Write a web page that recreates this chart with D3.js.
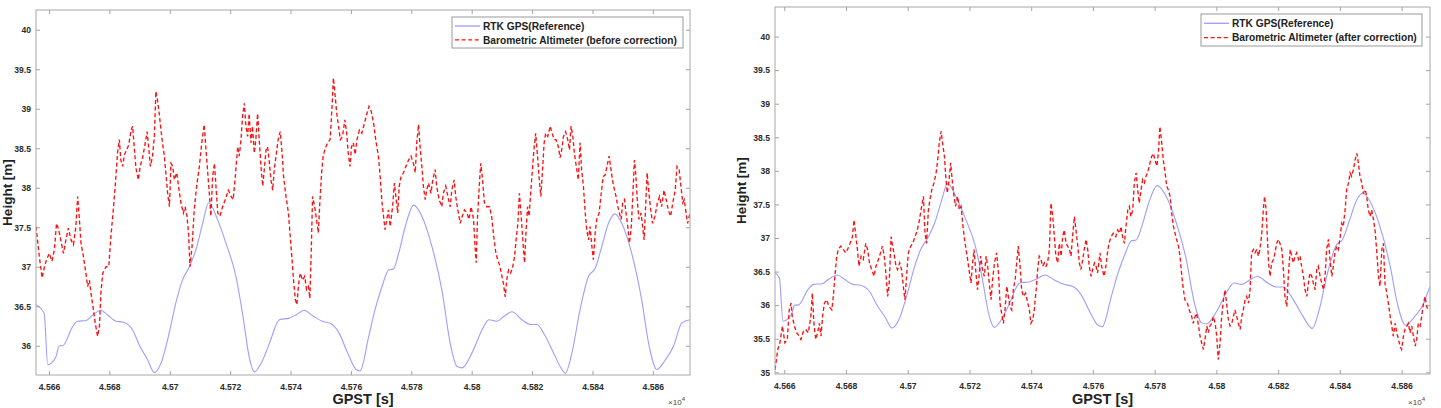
<!DOCTYPE html>
<html><head><meta charset="utf-8">
<script src="https://cdn.jsdelivr.net/npm/d3@7"></script>
<style>
html,body{margin:0;padding:0;background:#fff;}
svg{display:block;font-family:"Liberation Sans",Arial,sans-serif;}
</style></head><body>
<svg id="chart" width="1441" height="408"></svg>
<script>
// ---------- data ----------
const xTicks = [45660,45680,45700,45720,45740,45760,45780,45800,45820,45840,45860];
const xTickLabels = ["4.566","4.568","4.57","4.572","4.574","4.576","4.578","4.58","4.582","4.584","4.586"];
const yTicksBefore = [36,36.5,37,37.5,38,38.5,39,39.5,40];
const yTicksAfter = [35,35.5,36,36.5,37,37.5,38,38.5,39,39.5,40];
const yTickLabelsBefore = ["36","36.5","37","37.5","38","38.5","39","39.5","40"];
const yTickLabelsAfter = ["35","35.5","36","36.5","37","37.5","38","38.5","39","39.5","40"];
const seriesNamesBefore = ["RTK GPS(Reference)","Barometric Altimeter (before correction)"];
const seriesNamesAfter = ["RTK GPS(Reference)","Barometric Altimeter (after correction)"];
const xLabel = "GPST [s]";
const yLabel = "Height [m]";

// RTK GPS reference height [GPST s, m]
const rtkGps = [
[45655.7,36.52],[45658.4,36.41],[45659.6,35.76],[45662.3,35.86],[45663.4,36.0],[45664.5,36.0],[45667.8,36.24],[45669.5,36.31],
[45672.3,36.32],[45674.5,36.39],[45677.2,36.45],[45679.4,36.39],[45682.2,36.31],[45684.4,36.30],[45687.7,36.2],[45689.9,36.01],
[45692.7,35.82],[45694.9,35.66],[45697.1,35.78],[45699.8,36.16],[45702,36.54],[45704.3,36.84],[45706.5,37.0],[45708.7,37.22],
[45710.9,37.55],[45712.9,37.81],[45715.9,37.59],[45718.6,37.3],[45721.9,36.88],[45724.1,36.41],[45726.3,35.86],[45728,35.67],
[45730.8,35.82],[45733,36.03],[45736.3,36.33],[45739.6,36.35],[45741.8,36.39],[45744.5,36.45],[45747.3,36.38],[45750.6,36.31],
[45753.4,36.28],[45756.1,36.16],[45758.9,35.91],[45761.7,35.7],[45763.0,35.68],[45765.9,36.12],[45768,36.46],[45770.3,36.75],
[45772.5,36.96],[45774,36.97],[45775.8,37.17],[45778,37.51],[45780.8,37.78],[45783.5,37.64],[45786.8,37.26],[45790.1,36.71],
[45792.9,36.03],[45795.1,35.74],[45796.8,35.72],[45800.1,35.91],[45803.4,36.2],[45805.7,36.33],[45808.3,36.31],[45810.6,36.37],
[45813.3,36.43],[45816.6,36.33],[45819.4,36.27],[45821.6,36.27],[45824.4,36.12],[45827.1,35.91],[45829.9,35.7],[45831,35.65],
[45833.2,35.91],[45835.9,36.46],[45838.7,36.88],[45840.9,36.98],[45843.1,37.26],[45845.3,37.55],[45847.5,37.67],[45849.7,37.55],
[45853,37.17],[45856.3,36.58],[45858.6,36.03],[45861.3,35.7],[45864.1,35.82],[45866.8,35.99],[45869.6,36.29],[45872.3,36.33]
];

// Barometric altimeter before correction
const baroBefore = [
[45655.7,37.51],[45656.8,37.13],[45657.7,36.86],[45658.5,37.0],[45659.2,37.09],[45660.1,37.17],[45661.0,37.07],[45661.8,37.22],
[45662.5,37.55],[45663.2,37.47],[45664.0,37.32],[45664.8,37.17],[45665.6,37.34],[45666.4,37.49],[45667.3,37.34],[45668.1,37.28],
[45668.9,37.51],[45669.5,37.89],[45670.0,37.64],[45670.6,37.3],[45671.4,37.13],[45672.3,36.9],[45672.8,36.75],[45673.4,36.83],
[45673.9,36.67],[45674.7,36.46],[45675.3,36.29],[45676.1,36.12],[45676.7,36.24],[45677.2,36.67],[45677.8,36.92],[45678.9,37.0],
[45679.8,37.0],[45680.5,37.38],[45681.3,37.72],[45682.0,38.06],[45682.7,38.44],[45683.3,38.61],[45683.8,38.35],[45684.4,38.27],
[45685.0,38.42],[45685.7,38.48],[45686.4,38.54],[45687.2,38.73],[45687.7,38.78],[45688.3,38.48],[45688.8,38.25],[45689.6,38.1],
[45690.2,38.27],[45691.0,38.38],[45691.9,38.57],[45692.5,38.71],[45693.0,38.52],[45693.6,38.27],[45694.3,38.4],[45694.9,38.65],
[45695.4,39.22],[45696.0,39.09],[45696.5,38.94],[45697.1,38.73],[45697.6,38.57],[45698.2,38.4],[45698.7,38.19],[45699.3,37.93],
[45699.9,37.76],[45700.4,38.31],[45701.0,38.27],[45701.5,38.1],[45702.3,38.19],[45702.9,38.02],[45703.7,37.81],[45704.5,37.68],
[45705.1,37.76],[45705.7,37.64],[45706.2,37.43],[45706.7,37.0],[45707.4,37.26],[45708.1,37.72],[45708.9,38.02],[45709.8,38.27],
[45710.6,38.57],[45711.4,38.8],[45712.0,38.48],[45712.5,38.23],[45713.1,37.93],[45713.6,37.64],[45714.2,38.14],[45714.8,38.31],
[45715.3,38.02],[45715.9,37.68],[45716.6,37.64],[45717.5,37.76],[45718.4,37.85],[45719.4,37.97],[45720.3,37.89],[45721.0,37.85],
[45721.7,38.14],[45722.5,38.52],[45723.0,38.4],[45723.6,38.61],[45724.1,38.9],[45724.7,39.07],[45725.2,38.78],[45725.8,38.65],
[45726.3,38.94],[45726.9,38.57],[45727.4,38.78],[45728.0,38.44],[45728.5,38.61],[45729.1,38.94],[45729.7,38.57],[45730.2,38.27],
[45730.8,38.02],[45731.3,38.23],[45731.9,38.48],[45732.4,38.52],[45733.0,38.31],[45733.5,38.1],[45734.1,37.97],[45734.6,38.23],
[45735.2,38.4],[45735.9,38.61],[45736.6,38.71],[45737.2,38.44],[45737.7,38.14],[45738.5,37.89],[45739.3,37.68],[45739.9,37.38],
[45740.5,37.09],[45741.0,36.83],[45741.6,36.58],[45742.1,36.52],[45742.7,36.79],[45743.2,36.92],[45744.0,36.83],[45744.7,36.88],
[45745.3,36.71],[45745.9,36.75],[45746.4,36.6],[45746.9,37.26],[45747.3,37.89],[45748.0,37.76],[45748.6,37.6],[45749.2,37.43],
[45749.7,37.81],[45750.3,38.19],[45750.8,38.4],[45751.5,38.5],[45752.3,38.57],[45753.1,38.61],[45753.7,38.99],[45754.2,39.39],
[45754.7,39.2],[45755.3,38.94],[45755.9,38.78],[45756.5,38.61],[45757.2,38.65],[45758.0,38.86],[45758.6,38.69],[45759.1,38.44],
[45759.7,38.27],[45760.2,38.52],[45760.8,38.57],[45761.4,38.42],[45762.0,38.61],[45762.8,38.73],[45763.6,38.69],[45764.5,38.82],
[45765.3,38.94],[45766.0,39.03],[45766.7,38.97],[45767.5,38.82],[45768.2,38.61],[45769.1,38.4],[45769.7,38.14],[45770.2,37.85],
[45770.8,37.64],[45771.3,37.47],[45771.9,37.6],[45772.4,37.72],[45773.0,37.51],[45773.8,37.76],[45774.4,38.06],[45775.0,37.85],
[45775.5,37.68],[45776.0,38.02],[45776.6,38.14],[45777.4,38.19],[45778.2,38.27],[45779.1,38.35],[45779.9,38.4],[45780.7,38.31],
[45781.3,38.19],[45781.8,38.57],[45782.4,38.8],[45782.9,38.52],[45783.5,38.27],[45784.0,38.02],[45784.6,37.85],[45785.1,37.97],
[45785.7,38.06],[45786.5,37.93],[45787.1,38.1],[45787.9,38.23],[45788.4,38.02],[45789.2,37.85],[45790.1,37.76],[45790.6,37.93],
[45791.4,38.02],[45792.1,37.89],[45792.9,37.76],[45793.4,37.97],[45794.2,38.1],[45794.7,37.89],[45795.4,37.72],[45796.2,37.55],
[45796.9,37.64],[45797.6,37.72],[45798.4,37.68],[45799.1,37.6],[45799.8,37.76],[45800.6,37.6],[45801.1,37.26],[45801.5,37.05],
[45801.9,37.6],[45802.5,38.02],[45803.0,38.31],[45803.6,38.1],[45804.2,37.81],[45805.0,37.76],[45805.9,37.76],[45806.6,37.64],
[45807.3,37.38],[45808.0,37.17],[45808.6,37.09],[45809.4,37.0],[45810.0,36.88],[45810.5,36.79],[45811.1,36.62],[45811.6,36.83],
[45812.2,36.96],[45812.9,36.92],[45813.6,37.0],[45814.2,37.13],[45814.7,37.34],[45815.3,37.55],[45815.8,37.93],[45816.4,37.64],
[45817.0,37.3],[45817.5,37.05],[45817.9,37.38],[45818.5,37.76],[45819.0,37.64],[45819.6,37.97],[45820.1,38.23],[45820.7,38.52],
[45821.2,38.69],[45821.8,38.4],[45822.3,38.14],[45822.9,37.89],[45823.4,38.19],[45824.0,38.57],[45824.5,38.69],[45825.2,38.65],
[45826.0,38.78],[45826.5,38.71],[45827.3,38.61],[45827.9,38.61],[45828.7,38.52],[45829.3,38.38],[45829.8,38.48],[45830.4,38.65],
[45831.1,38.71],[45831.8,38.61],[45832.4,38.48],[45832.9,38.78],[45833.5,38.65],[45834.0,38.44],[45834.8,38.23],[45835.3,38.1],
[45835.9,38.57],[45836.4,38.23],[45837.0,38.02],[45837.6,37.68],[45838.1,37.47],[45838.7,37.34],[45839.2,37.51],[45839.8,37.26],
[45840.3,37.09],[45840.9,37.43],[45841.4,37.6],[45842.2,37.68],[45842.9,37.93],[45843.5,38.14],[45844.2,38.16],[45844.8,38.27],
[45845.5,38.4],[45846.0,38.27],[45846.6,38.1],[45847.3,37.97],[45847.8,37.89],[45848.4,37.76],[45848.9,37.68],[45849.5,37.6],
[45850.0,37.81],[45850.6,37.85],[45851.1,37.68],[45851.7,37.51],[45852.2,37.3],[45852.8,37.47],[45853.3,37.85],[45853.9,38.35],
[45854.3,38.19],[45854.9,37.81],[45855.4,37.6],[45856.1,37.68],[45856.6,37.51],[45857.1,37.34],[45857.6,37.76],[45858.1,38.19],
[45858.7,37.93],[45859.3,37.72],[45859.9,37.55],[45860.7,37.64],[45861.5,37.81],[45862.2,37.89],[45862.9,37.76],[45863.7,37.97],
[45864.4,37.85],[45865.1,37.72],[45865.9,37.64],[45866.6,37.81],[45867.4,37.97],[45868.0,38.27],[45868.7,38.23],[45869.3,38.02],
[45869.9,37.81],[45870.4,37.85],[45871.0,37.68],[45871.5,37.55],[45872.3,37.68]
];

// Barometric altimeter after correction
const baroAfter = [
[45657.0,35.04],[45657.9,35.34],[45658.6,35.44],[45659.4,35.69],[45660.2,35.44],[45661.0,35.49],[45661.6,35.93],[45662.2,36.03],
[45662.6,35.83],[45663.3,35.69],[45664.0,35.59],[45664.8,35.54],[45665.4,35.49],[45666.2,35.61],[45666.9,35.64],[45667.8,35.59],
[45668.6,35.83],[45669.1,36.18],[45669.6,35.73],[45670.2,35.49],[45670.8,35.59],[45671.4,35.73],[45671.9,35.54],[45672.4,35.83],
[45673.0,36.03],[45673.7,36.08],[45674.5,35.98],[45675.4,35.93],[45675.9,36.13],[45676.4,36.43],[45677.0,36.73],[45677.5,36.83],
[45678.3,36.88],[45679.1,36.83],[45679.9,36.78],[45680.5,36.83],[45681.3,36.92],[45682.1,37.02],[45682.6,37.27],[45683.1,37.07],
[45683.7,36.83],[45684.2,36.58],[45684.9,36.73],[45685.6,36.68],[45686.4,36.92],[45687.0,36.83],[45687.6,36.63],[45688.3,36.53],
[45689.1,36.43],[45689.7,36.58],[45690.5,36.68],[45691.2,36.78],[45691.8,36.88],[45692.4,36.73],[45693.0,36.43],[45693.5,36.13],
[45694.0,36.33],[45694.6,37.02],[45695.1,36.88],[45695.7,36.73],[45696.2,36.58],[45696.7,36.53],[45697.4,36.63],[45698.0,36.53],
[45698.7,36.23],[45699.1,36.08],[45699.7,36.48],[45700.2,36.78],[45701.0,36.88],[45701.6,36.92],[45702.4,37.02],[45703.1,37.12],
[45703.8,37.27],[45704.5,37.47],[45705.1,37.62],[45705.6,37.07],[45706.1,36.92],[45706.7,37.42],[45707.2,37.57],[45707.8,37.72],
[45708.5,37.82],[45709.2,37.97],[45709.7,38.16],[45710.2,38.41],[45710.8,38.59],[45711.3,38.41],[45711.9,38.21],[45712.3,37.92],
[45712.8,37.67],[45713.4,37.87],[45713.9,38.12],[45714.5,37.82],[45715.0,37.62],[45715.5,37.47],[45716.2,37.62],[45716.7,37.42],
[45717.3,37.47],[45717.8,37.22],[45718.3,37.02],[45718.9,36.83],[45719.4,36.68],[45720.0,36.48],[45720.5,36.33],[45720.9,36.58],
[45721.5,36.83],[45722.0,36.53],[45722.6,36.23],[45723.1,36.43],[45723.6,36.73],[45724.2,36.53],[45724.8,36.43],[45725.4,36.73],
[45725.9,36.58],[45726.4,36.33],[45727.0,36.08],[45727.5,36.38],[45728.1,36.63],[45728.8,36.78],[45729.4,36.48],[45729.9,36.03],
[45730.4,35.88],[45731.0,35.73],[45731.5,35.93],[45732.1,36.28],[45732.6,36.13],[45733.1,35.98],[45733.7,35.93],[45734.2,36.23],
[45734.8,36.38],[45735.3,36.63],[45735.8,36.88],[45736.4,36.58],[45736.9,36.23],[45737.5,36.13],[45738.2,36.18],[45738.9,36.03],
[45739.4,35.93],[45739.9,35.73],[45740.5,35.78],[45741.0,35.93],[45741.6,36.23],[45742.1,36.53],[45742.6,36.73],[45743.2,36.68],
[45743.7,36.58],[45744.3,36.63],[45744.8,36.58],[45745.3,36.63],[45745.9,36.83],[45746.4,37.52],[45747.0,37.32],[45747.5,37.02],
[45748.0,36.73],[45748.6,36.63],[45749.1,36.92],[45749.7,36.73],[45750.2,37.02],[45750.7,37.12],[45751.3,36.92],[45751.8,36.88],
[45752.4,36.83],[45752.9,36.73],[45753.4,37.02],[45754.0,37.32],[45754.5,37.12],[45755.1,36.88],[45755.6,36.63],[45756.1,36.53],
[45756.7,36.68],[45757.2,36.83],[45757.8,36.98],[45758.3,36.83],[45758.8,36.58],[45759.4,36.43],[45759.9,36.53],[45760.5,36.63],
[45761.0,36.58],[45761.5,36.48],[45762.3,36.78],[45762.8,36.58],[45763.6,36.43],[45764.2,36.58],[45764.7,36.78],[45765.2,36.92],
[45765.9,37.02],[45766.6,37.07],[45767.4,37.02],[45768.0,37.12],[45768.6,37.07],[45769.1,37.17],[45769.6,37.02],[45770.2,36.92],
[45770.7,37.17],[45771.3,37.42],[45771.8,37.47],[45772.3,37.32],[45772.9,37.42],[45773.4,37.82],[45774.0,37.97],[45774.5,37.72],
[45775.0,37.52],[45775.6,37.72],[45776.1,37.87],[45776.7,37.82],[45777.2,37.92],[45777.7,37.97],[45778.5,38.12],[45779.0,38.21],
[45779.6,38.26],[45780.1,38.16],[45780.7,38.07],[45781.2,38.26],[45781.7,38.66],[45782.3,38.41],[45782.8,38.16],[45783.4,37.97],
[45783.9,37.77],[45784.4,37.72],[45785.0,37.62],[45785.5,37.37],[45786.1,37.17],[45786.6,37.07],[45787.1,36.98],[45787.7,36.88],
[45788.2,36.73],[45788.8,36.43],[45789.3,36.23],[45789.8,36.08],[45790.6,36.03],[45791.2,35.93],[45792.0,35.83],[45792.5,35.73],
[45793.1,35.83],[45793.6,35.88],[45794.2,35.69],[45794.7,35.54],[45795.2,35.44],[45795.8,35.34],[45796.3,35.49],[45796.9,35.69],
[45797.4,35.59],[45797.9,35.69],[45798.5,35.73],[45799.0,35.83],[45799.6,35.73],[45800.1,35.54],[45800.6,35.19],[45801.2,35.44],
[45801.7,35.83],[45802.3,36.08],[45802.8,36.23],[45803.3,36.03],[45803.9,35.78],[45804.4,35.69],[45805.0,35.73],[45805.5,35.83],
[45806.0,35.93],[45806.6,35.83],[45807.1,35.73],[45807.7,35.64],[45808.2,35.83],[45808.7,35.93],[45809.3,36.08],[45809.8,36.13],
[45810.4,36.03],[45810.9,36.23],[45811.4,36.78],[45812.0,36.83],[45812.5,36.78],[45813.1,36.83],[45813.6,36.73],[45814.1,36.83],
[45814.7,37.07],[45815.2,37.42],[45815.6,37.62],[45816.1,37.42],[45816.5,37.02],[45816.9,36.63],[45817.4,36.43],[45817.9,36.63],
[45818.5,36.68],[45819.0,36.78],[45819.5,36.92],[45820.1,36.98],[45820.6,36.92],[45821.2,36.83],[45821.7,36.53],[45822.2,36.13],
[45822.8,35.98],[45823.3,36.43],[45823.9,36.83],[45824.4,36.73],[45824.9,36.63],[45825.5,36.73],[45826.0,36.78],[45826.6,36.68],
[45827.1,36.73],[45827.6,36.58],[45828.2,36.43],[45828.7,36.23],[45829.3,36.13],[45829.8,36.33],[45830.3,36.48],[45830.9,36.43],
[45831.4,36.33],[45832.0,36.23],[45832.5,36.53],[45833.0,36.58],[45833.6,36.43],[45834.1,36.33],[45834.7,36.23],[45835.2,36.43],
[45835.7,36.83],[45836.3,36.98],[45836.8,36.68],[45837.4,36.43],[45837.9,36.58],[45838.4,36.78],[45839.0,36.88],[45839.5,36.83],
[45840.1,37.02],[45840.6,37.22],[45841.1,37.17],[45841.7,37.42],[45842.2,37.72],[45842.8,37.82],[45843.3,37.97],[45843.8,37.92],
[45844.4,38.02],[45844.9,38.16],[45845.5,38.26],[45846.0,38.12],[45846.5,37.92],[45847.1,37.82],[45847.6,37.67],[45848.2,37.72],
[45848.7,37.62],[45849.2,37.42],[45849.8,37.32],[45850.3,37.42],[45850.9,37.27],[45851.4,37.12],[45851.9,36.83],[45852.5,36.43],
[45853.0,36.28],[45853.6,36.83],[45854.1,36.92],[45854.6,36.33],[45855.2,36.18],[45855.7,36.03],[45856.3,35.83],[45856.8,35.69],
[45857.3,35.54],[45857.9,35.73],[45858.4,35.59],[45859.0,35.49],[45859.5,35.39],[45860.0,35.34],[45860.6,35.54],[45861.1,35.64],
[45861.7,35.69],[45862.2,35.73],[45862.7,35.59],[45863.3,35.69],[45863.8,35.54],[45864.4,35.39],[45864.9,35.49],[45865.4,35.73],
[45866.0,35.69],[45866.5,35.83],[45867.1,36.03],[45867.6,36.13],[45868.1,35.98],[45868.7,35.93]
];

// ---------- layout ----------
const panels = [
  {left:36, top:10, right:690, bottom:375, xDomain:[45655.7,45872.3], yDomain:[35.63,40.25],
   yTicks:yTicksBefore, yTickLabels:yTickLabelsBefore, baro:baroBefore, names:seriesNamesBefore,
   legend:{x:452, y:17, w:231, h:31}, yLabelX:12, id:"p0"},
  {left:775, top:7, right:1430, bottom:374, xDomain:[45657,45869.2], yDomain:[34.975,40.44],
   yTicks:yTicksAfter, yTickLabels:yTickLabelsAfter, baro:baroAfter, names:seriesNamesAfter,
   legend:{x:1201, y:14, w:221, h:32}, yLabelX:746, id:"p1"}
];

const blueColor = "#9d9dff";
const redColor = "#ff1010";
const svg = d3.select("#chart");
const defs = svg.append("defs");

panels.forEach(p => {
  const x = d3.scaleLinear().domain(p.xDomain).range([p.left, p.right]);
  const y = d3.scaleLinear().domain(p.yDomain).range([p.bottom, p.top]);
  const w = p.right - p.left, h = p.bottom - p.top;

  defs.append("clipPath").attr("id", "clip-" + p.id)
    .append("rect").attr("x", p.left).attr("y", p.top).attr("width", w).attr("height", h);

  const g = svg.append("g");

  // axes (ticks inward, MATLAB style)
  const styleAxis = sel => {
    sel.select(".domain").remove();
    sel.selectAll(".tick line").attr("stroke", "#8a8a8a").attr("stroke-width", 0.8);
    sel.selectAll(".tick text").attr("fill", "#2b2b2b").attr("font-weight", "bold").attr("font-size", "8.6px");
  };
  g.append("g").attr("transform", `translate(0,${p.bottom})`)
    .call(d3.axisBottom(x).tickValues(xTicks).tickFormat((d,i) => xTickLabels[i]).tickSize(-4).tickPadding(9))
    .call(styleAxis);
  g.append("g").attr("transform", `translate(0,${p.top})`)
    .call(d3.axisTop(x).tickValues(xTicks).tickFormat("").tickSize(-4))
    .call(styleAxis);
  g.append("g").attr("transform", `translate(${p.left},0)`)
    .call(d3.axisLeft(y).tickValues(p.yTicks).tickFormat((d,i) => p.yTickLabels[i]).tickSize(-4).tickPadding(5))
    .call(styleAxis);
  g.append("g").attr("transform", `translate(${p.right},0)`)
    .call(d3.axisRight(y).tickValues(p.yTicks).tickFormat("").tickSize(-4))
    .call(styleAxis);

  // lines
  const plot = g.append("g").attr("clip-path", `url(#clip-${p.id})`);
  plot.append("path").datum(rtkGps)
    .attr("d", d3.line().x(d => x(d[0])).y(d => y(d[1])).curve(d3.curveMonotoneX))
    .attr("fill", "none").attr("stroke", blueColor).attr("stroke-width", 1.1);
  plot.append("path").datum(p.baro)
    .attr("d", d3.line().x(d => x(d[0])).y(d => y(d[1])))
    .attr("fill", "none").attr("stroke", redColor).attr("stroke-width", 1.35)
    .attr("stroke-dasharray", "4,2.6");

  // box
  g.append("rect").attr("x", p.left).attr("y", p.top).attr("width", w).attr("height", h)
    .attr("fill", "none").attr("stroke", "#a8a8a8").attr("stroke-width", 1);

  // axis labels
  g.append("text").attr("x", (p.left + p.right) / 2).attr("y", 404)
    .attr("text-anchor", "middle").attr("font-weight", "bold").attr("font-size", "14.5px")
    .attr("fill", "#222").text(xLabel);
  g.append("text").attr("transform", `translate(${p.yLabelX},${(p.top + p.bottom) / 2}) rotate(-90)`)
    .attr("text-anchor", "middle").attr("font-weight", "bold").attr("font-size", "13.5px")
    .attr("fill", "#222").text(yLabel);
  const exp = g.append("text").attr("x", p.right - 5).attr("y", 405)
    .attr("text-anchor", "end").attr("font-size", "8px").attr("fill", "#444");
  exp.append("tspan").text("\u00d710");
  exp.append("tspan").attr("dy", -4).attr("font-size", "6px").text("4");

  // legend
  const L = p.legend;
  const lg = g.append("g");
  lg.append("rect").attr("x", L.x).attr("y", L.y).attr("width", L.w).attr("height", L.h)
    .attr("fill", "#fff").attr("stroke", "#9a9a9a").attr("stroke-width", 1);
  const rows = [L.y + L.h * 0.29, L.y + L.h * 0.74];
  lg.append("line").attr("x1", L.x + 3).attr("x2", L.x + 28).attr("y1", rows[0]).attr("y2", rows[0])
    .attr("stroke", blueColor).attr("stroke-width", 1.3);
  lg.append("line").attr("x1", L.x + 3).attr("x2", L.x + 28).attr("y1", rows[1]).attr("y2", rows[1])
    .attr("stroke", redColor).attr("stroke-width", 1.3).attr("stroke-dasharray", "4,2.6");
  p.names.forEach((n, i) => {
    lg.append("text").attr("x", L.x + 31).attr("y", rows[i] + 3.6)
      .attr("font-weight", "bold").attr("font-size", "10.2px").attr("fill", "#222").text(n);
  });
});
</script>
</body></html>
